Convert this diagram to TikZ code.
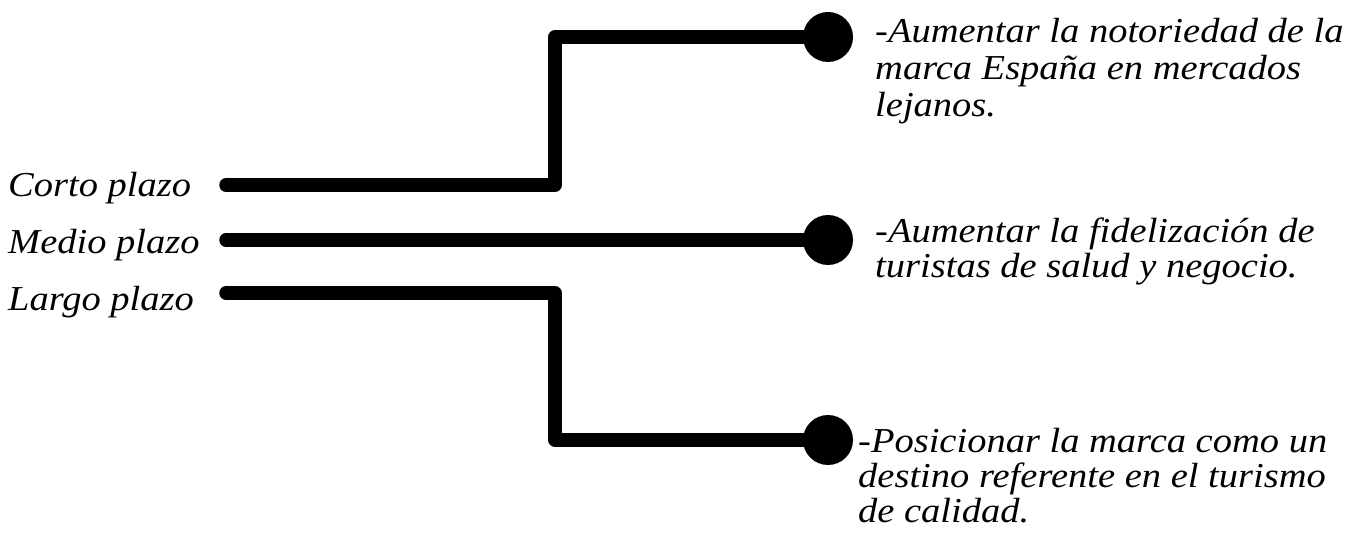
\documentclass[tikz,border=0pt]{standalone}
\usepackage{fontspec}
\setmainfont[FakeStretch=1.1]{Liberation Serif}
\begin{document}
\begin{tikzpicture}[x=1pt,y=-1pt,
  conn/.style={line width=13.5pt, line join=round, line cap=round},
  dot/.style={circle, fill=black, inner sep=0pt, minimum size=50pt},
  lbl/.style={anchor=base west, inner sep=0pt, font=\fontsize{35}{35}\selectfont\itshape}]
\useasboundingbox (0,0) rectangle (1368,534);
% left labels
\node[lbl] (t1) at (8,197) {Corto plazo};
\node[lbl] (t2) at (8,254) {Medio plazo};
\node[lbl] (t3) at (8,311) {Largo plazo};
% start points
\coordinate (s1) at (226,185);
\coordinate (s2) at (226,240);
\coordinate (s3) at (226,293);
\coordinate (k) at (555,0);
% end dots
\node[dot] (c1) at (828,37) {};
\node[dot] (c2) at (828,240) {};
\node[dot] (c3) at (828,440) {};
% connectors
\draw[conn] (s1) -| (k |- c1) -- (c1.center);
\draw[conn] (s2) -- (c2.center);
\draw[conn] (s3) -| (k |- c3) -- (c3.center);
% right texts
\node[lbl, font=\fontsize{35}{37}\selectfont\itshape] (r1) at (875,43) {\begin{tabular}[t]{@{}l@{}}-Aumentar la notoriedad de la\\ marca España en mercados\\ lejanos.\end{tabular}};
\node[lbl] (r2) at (875,243) {\begin{tabular}[t]{@{}l@{}}-Aumentar la fidelización de\\ turistas de salud y negocio.\end{tabular}};
\node[lbl] (r3) at (858,452) {\begin{tabular}[t]{@{}l@{}}-Posicionar la marca como un\\ destino referente en el turismo\\ de calidad.\end{tabular}};
\end{tikzpicture}
\end{document}
